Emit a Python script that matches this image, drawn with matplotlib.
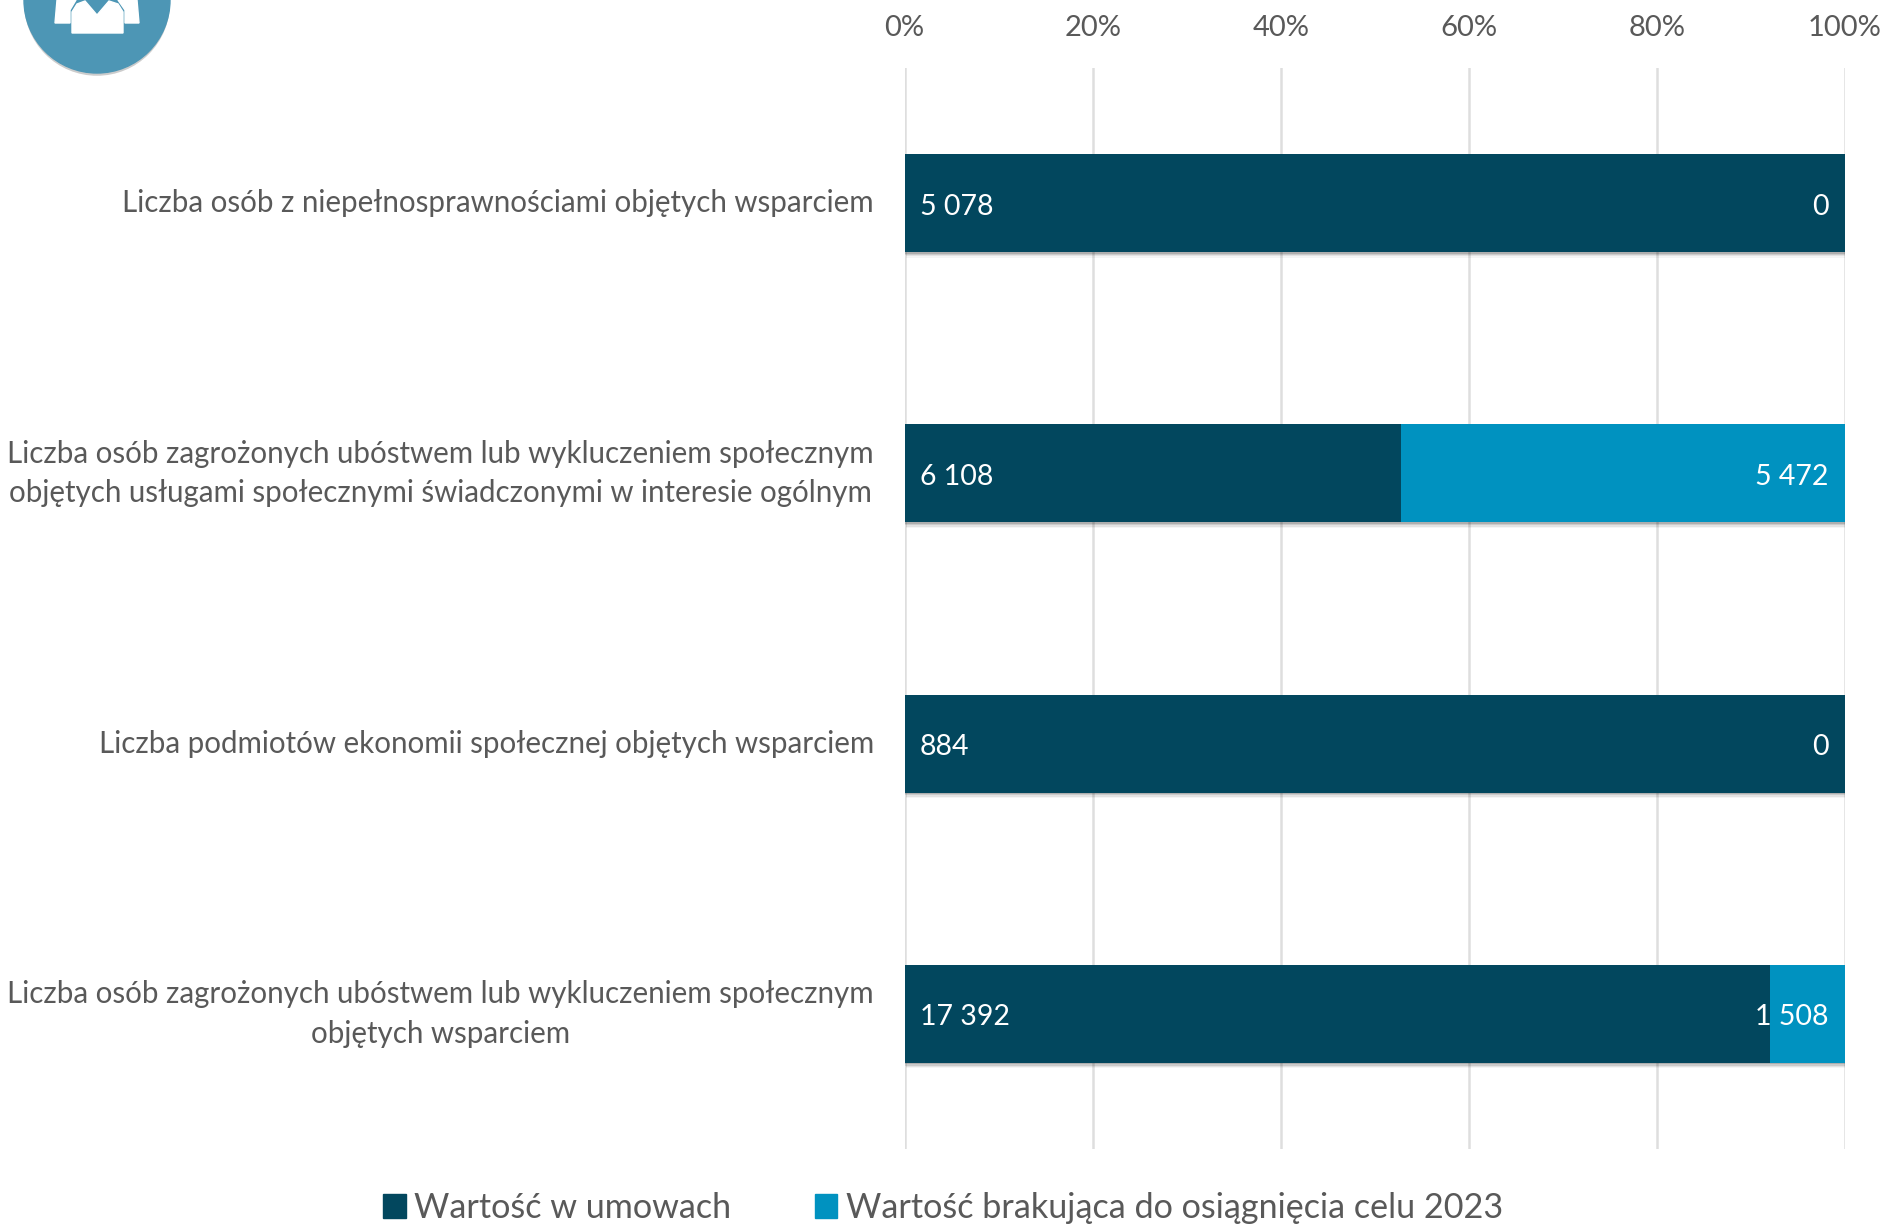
import matplotlib
matplotlib.use('Agg')
import matplotlib.pyplot as plt
import matplotlib.patheffects as pe
from matplotlib.patches import Circle, Polygon, Patch

plt.rcParams['font.family'] = ['Lato', 'DejaVu Sans']

# dane z wykresu
categories = [
    'Liczba osób z niepełnosprawnościami objętych wsparciem',
    'Liczba osób zagrożonych ubóstwem lub wykluczeniem społecznym\nobjętych usługami społecznymi świadczonymi w interesie ogólnym',
    'Liczba podmiotów ekonomii społecznej objętych wsparciem',
    'Liczba osób zagrożonych ubóstwem lub wykluczeniem społecznym\nobjętych wsparciem',
]
in_contracts = [5078, 6108, 884, 17392]
missing = [0, 5472, 0, 1508]
value_labels_a = ['5 078', '6 108', '884', '17 392']
value_labels_b = ['0', '5 472', '0', '1 508']
series_names = ['Wartość w umowach', 'Wartość brakująca do osiągnięcia celu 2023']

W, H = 1885, 1224
DARK = '#02475e'
LIGHT = '#0092c0'
TEXT = '#595959'

fig = plt.figure(figsize=(W / 100, H / 100), dpi=100)
ax = fig.add_axes([904.6 / W, 1 - 1149 / H, 940.4 / W, 1081 / H])

shares_a = [a / (a + b) for a, b in zip(in_contracts, missing)]
shares_b = [b / (a + b) for a, b in zip(in_contracts, missing)]
pos = list(range(len(categories)))

# cien pod slupkami
shadow = [pe.SimplePatchShadow(offset=(1, -4), shadow_rgbFace='#000000', alpha=0.04),
          pe.SimplePatchShadow(offset=(1, -3), shadow_rgbFace='#000000', alpha=0.07),
          pe.SimplePatchShadow(offset=(0.5, -2), shadow_rgbFace='#000000', alpha=0.10),
          pe.SimplePatchShadow(offset=(0, -1), shadow_rgbFace='#000000', alpha=0.14),
          pe.Normal()]
bars_a = ax.barh(pos, shares_a, height=0.363, color=DARK, zorder=3)
bars_b = ax.barh(pos, shares_b, left=shares_a, height=0.363, color=LIGHT, zorder=3)
for b in list(bars_a) + list(bars_b):
    b.set_path_effects(shadow)

for y, la, lb in zip(pos, value_labels_a, value_labels_b):
    ax.annotate(la, (0, y), xytext=(11, -0.7), textcoords='offset points', color='white',
                fontsize=20.5, ha='left', va='center_baseline', zorder=5)
    ax.annotate(lb, (1, y), xytext=(-11.6, -0.7), textcoords='offset points', color='white',
                fontsize=20.5, ha='right', va='center_baseline', zorder=5)

ax.set_xlim(0, 1)
ax.set_ylim(len(categories) - 0.5, -0.5)
ax.xaxis.tick_top()
ax.set_xticks([0, 0.2, 0.4, 0.6, 0.8, 1.0])
ax.set_xticklabels(['0%', '20%', '40%', '60%', '80%', '100%'], fontsize=21, color=TEXT)
ax.set_yticks(pos)
ax.set_yticklabels(categories, fontsize=21.25, color=TEXT, ha='right', va='center',
                   multialignment='center', linespacing=1.5)
ax.tick_params(axis='x', length=0, pad=19.7)
ax.tick_params(axis='y', length=0, pad=22)
ax.grid(axis='x', color='#dedede', linewidth=1.8, zorder=0)
ax.set_axisbelow(True)
for s in ax.spines.values():
    s.set_visible(False)

handles = [Patch(color=DARK), Patch(color=LIGHT)]
fig.legend(handles=handles, labels=series_names, loc='center',
           bbox_to_anchor=(943 / W, 1 - 1208 / H), ncol=2, frameon=False, fontsize=24.6,
           labelcolor=TEXT, handlelength=0.67, handleheight=0.67, handletextpad=0.25,
           columnspacing=2.43, borderpad=0)

# ikona w lewym gornym rogu
over = fig.add_axes([0, 0, 1, 1], zorder=10)
over.set_xlim(0, W)
over.set_ylim(H, 0)
over.axis('off')
over.add_patch(Circle((97, 0), 73, color='#4d96b5', zorder=2,
                      path_effects=[pe.SimplePatchShadow(offset=(0, -2), shadow_rgbFace='#000000', alpha=0.2), pe.Normal()]))
over.add_patch(Polygon([(57, 0), (55, 23), (70, 23), (70, 10), (76, 0)], color='white', zorder=3))
over.add_patch(Polygon([(118, 0), (125, 10), (125, 23), (139, 23), (137, 0)], color='white', zorder=3))
over.add_patch(Polygon([(72, 33), (72, 12), (77, 4), (85, 1), (97, 15), (109, 1), (118, 4), (123, 12), (123, 33)],
                       color='white', zorder=3))

fig.savefig('out.png', dpi=100, facecolor='white')
